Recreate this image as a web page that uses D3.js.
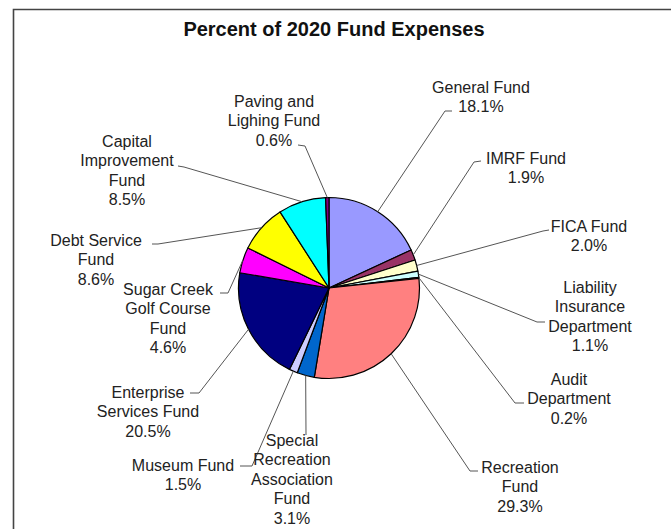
<!DOCTYPE html>
<html>
<head>
<meta charset="utf-8">
<script src="https://cdn.jsdelivr.net/npm/d3@7"></script>
<style>
  html, body { margin: 0; padding: 0; background: #ffffff; }
  svg { display: block; }
</style>
</head>
<body>
<svg id="chart" width="671" height="529"></svg>
<script>
// Fund names (line breaks mark wrapped labels) and their share of 2020 expenses
const categories = [
  "General Fund",
  "IMRF Fund",
  "FICA Fund",
  "Liability\nInsurance\nDepartment",
  "Audit\nDepartment",
  "Recreation\nFund",
  "Special\nRecreation\nAssociation\nFund",
  "Museum Fund",
  "Enterprise\nServices Fund",
  "Sugar Creek\nGolf Course\nFund",
  "Debt Service\nFund",
  "Capital\nImprovement\nFund",
  "Paving and\nLighing Fund"
];
const values = [18.1, 1.9, 2.0, 1.1, 0.2, 29.3, 3.1, 1.5, 20.5, 4.6, 8.6, 8.5, 0.6];
const sliceColors = [
  "#9999FF", "#993366", "#FFFFCC", "#CCFFFF", "#660066", "#FF8080", "#0066CC",
  "#CCCCFF", "#000080", "#FF00FF", "#FFFF00", "#00FFFF", "#800080"
];
const title = "Percent of 2020 Fund Expenses";

// Label placement: centre x, first baseline, leader elbow and leader end
const labelLayout = [
  { cx: 481, y: 93,  elbow: [445, 111], end: [452, 111] },
  { cx: 526, y: 164, elbow: [474, 162], end: [481, 161] },
  { cx: 589, y: 232, elbow: [543, 231], end: [549, 230] },
  { cx: 590, y: 293, elbow: [537, 322], end: [545, 322] },
  { cx: 569, y: 385, elbow: [515, 403], end: [524, 403] },
  { cx: 520, y: 473, elbow: [470, 471], end: [478, 471] },
  { cx: 292, y: 446, elbow: null,       end: [306, 435] },
  { cx: 183, y: 471, elbow: [252, 466], end: [240, 466] },
  { cx: 148, y: 398, elbow: [199, 393], end: [190, 393] },
  { cx: 168, y: 295, elbow: [228, 293], end: [220, 293] },
  { cx: 96,  y: 246, elbow: [158, 244], end: [152, 244] },
  { cx: 127, y: 147, elbow: [184, 167], end: [178, 166] },
  { cx: 274, y: 107, elbow: [305, 146], end: [298, 145] }
];

const W = 671, H = 529;
const cx = 329, cy = 288, R = 90.5;
const lineHeight = 19.4;
const fontFamily = "Arial, 'Liberation Sans', Helvetica, sans-serif";

const svg = d3.select("#chart");

// Chart frame (top and left edges visible inside the window)
svg.append("path")
  .attr("d", `M13.5,${H + 5} L13.5,9.5 L${W + 5},9.5`)
  .attr("fill", "none")
  .attr("stroke", "#444")
  .attr("stroke-width", 1.6);

// Title
svg.append("text")
  .attr("x", 334)
  .attr("y", 36)
  .attr("text-anchor", "middle")
  .attr("font-family", fontFamily)
  .attr("font-weight", "bold")
  .attr("font-size", 20)
  .attr("fill", "#111")
  .text(title);

const pie = d3.pie().sort(null).value(d => d)
  .startAngle(0).endAngle(2 * Math.PI);
const arcs = pie(values);

const arc = d3.arc().innerRadius(0).outerRadius(R);
const edgeArc = d3.arc().innerRadius(R).outerRadius(R);

const g = svg.append("g").attr("transform", `translate(${cx},${cy})`);

// Slices
g.selectAll("path.slice")
  .data(arcs)
  .join("path")
  .attr("class", "slice")
  .attr("d", arc)
  .attr("fill", (d, i) => sliceColors[i])
  .attr("stroke", "#000")
  .attr("stroke-width", 1.2)
  .attr("stroke-linejoin", "round");

// Leader lines from each slice edge to its label
const line = d3.line();
svg.selectAll("path.leader")
  .data(arcs)
  .join("path")
  .attr("class", "leader")
  .attr("d", (d, i) => {
    const c = edgeArc.centroid(d);
    const p0 = [cx + c[0], cy + c[1]];
    const L = labelLayout[i];
    const pts = L.elbow ? [p0, L.elbow, L.end] : [p0, L.end];
    return line(pts);
  })
  .attr("fill", "none")
  .attr("stroke", "#555")
  .attr("stroke-width", 1);

// Labels: name lines followed by the percentage
const labels = svg.selectAll("text.label")
  .data(arcs)
  .join("text")
  .attr("class", "label")
  .attr("text-anchor", "middle")
  .attr("font-family", fontFamily)
  .attr("font-size", 16)
  .attr("fill", "#222")
  .attr("x", (d, i) => labelLayout[i].cx)
  .attr("y", (d, i) => labelLayout[i].y);

labels.each(function (d, i) {
  const lines = categories[i].split("\n").concat([d.data.toFixed(1) + "%"]);
  const t = d3.select(this);
  lines.forEach((s, k) => {
    t.append("tspan")
      .attr("x", labelLayout[i].cx)
      .attr("dy", k === 0 ? 0 : lineHeight)
      .text(s);
  });
});
</script>
</body>
</html>
